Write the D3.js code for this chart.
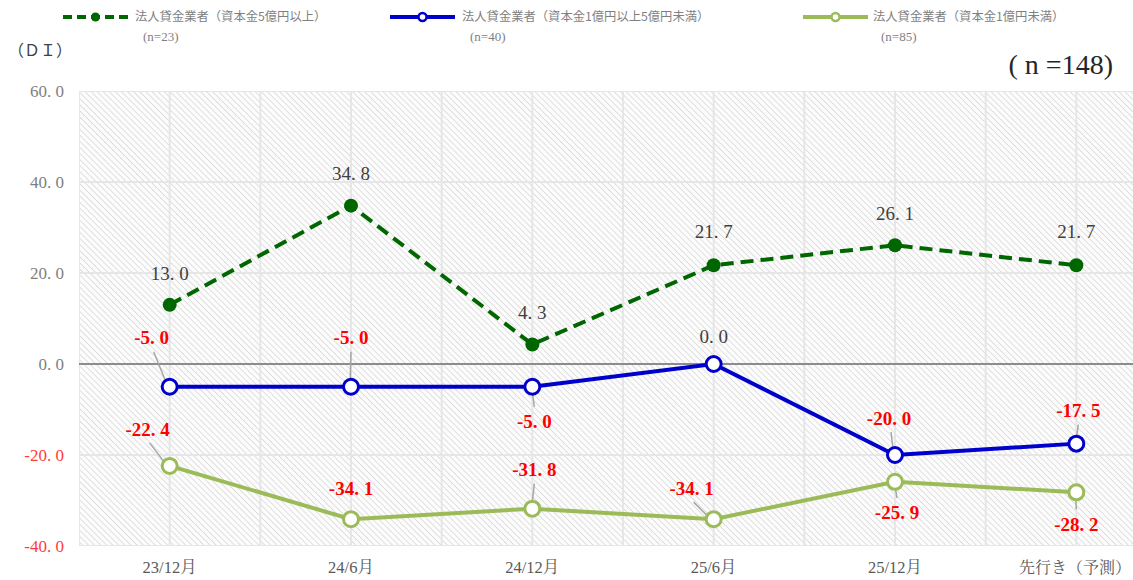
<!DOCTYPE html>
<html><head><meta charset="utf-8">
<script src="https://cdn.jsdelivr.net/npm/d3@7"></script>
<style>
body{margin:0;background:#fff;}
svg{display:block;}
</style></head>
<body>
<svg id="chart" width="1133" height="580"></svg>
<script>
const categories = ["23/12月","24/6月","24/12月","25/6月","25/12月","先行き（予測）"];
const seriesNames = ["法人貸金業者（資本金5億円以上）","法人貸金業者（資本金1億円以上5億円未満）","法人貸金業者（資本金1億円未満）"];
const seriesN = ["(n=23)","(n=40)","(n=85)"];
const large = [13.0, 34.8, 4.3, 21.7, 26.1, 21.7];
const mid = [-5.0, -5.0, -5.0, 0.0, -20.0, -17.5];
const small = [-22.4, -34.1, -31.8, -34.1, -25.9, -28.2];
const yTicks = [60, 40, 20, 0, -20, -40];

const svg = d3.select("#chart");
const pLeft = 79, pRight = 1167, pTop = 91, pBottom = 546;
const x = d3.scaleBand().domain(categories).range([pLeft, pRight]);
const xc = d => x(d) + x.bandwidth()/2;
const y = d3.scaleLinear().domain([-40, 60]).range([pBottom, pTop]);
const serif = "'Liberation Serif','Noto Serif CJK JP','Noto Sans CJK JP',serif";
const jp = "'Noto Sans CJK JP',sans-serif";
const fmt = v => { const s = d3.format(".1f")(v).replace("−","-"); return s.replace(".", ". "); };

// hatch pattern
const defs = svg.append("defs");
const pat = defs.append("pattern").attr("id","hatch").attr("patternUnits","userSpaceOnUse")
  .attr("width",4.3).attr("height",4.3).attr("patternTransform","rotate(45)");
pat.append("rect").attr("width",4.3).attr("height",4.3).attr("fill","#fcfcfc");
pat.append("line").attr("x1",0).attr("y1",0).attr("x2",4.3).attr("y2",0)
  .attr("stroke","#d9d9d9").attr("stroke-width",1.6);
defs.append("clipPath").attr("id","clip").append("rect")
  .attr("x",pLeft).attr("y",pTop).attr("width",pRight-pLeft).attr("height",pBottom-pTop);

svg.append("rect").attr("x",pLeft).attr("y",pTop).attr("width",pRight-pLeft).attr("height",pBottom-pTop)
  .attr("fill","url(#hatch)");

// gridlines
const grid = svg.append("g").attr("clip-path","url(#clip)");
grid.selectAll(".hg").data(yTicks.filter(t=>t!==0)).join("line")
  .attr("x1",pLeft).attr("x2",pRight).attr("y1",d=>y(d)).attr("y2",d=>y(d))
  .attr("stroke","#e6e6e6").attr("stroke-width",2);
const vlines = [];
categories.forEach(c=>{vlines.push(x(c)); vlines.push(xc(c));});
grid.selectAll(".vg").data(vlines).join("line")
  .attr("x1",d=>d).attr("x2",d=>d).attr("y1",pTop).attr("y2",pBottom)
  .attr("stroke","#e6e6e6").attr("stroke-width",2);

// zero line
svg.append("line").attr("x1",pLeft).attr("x2",pRight).attr("y1",y(0)).attr("y2",y(0))
  .attr("stroke","#8c8c8c").attr("stroke-width",2);

// y axis
const yAxis = svg.append("g").attr("transform",`translate(${pLeft-15},0)`)
  .call(d3.axisLeft(y).tickValues(yTicks).tickSize(0).tickFormat(fmt));
yAxis.select(".domain").remove();
yAxis.selectAll("text").attr("font-family",serif).attr("font-size",17)
  .attr("fill",d=>d<0?"#ff3b3b":"#7f7f7f").attr("dy","0.35em").attr("x",0);

// x axis
const xAxis = svg.append("g").attr("transform",`translate(0,${pBottom})`)
  .call(d3.axisBottom(x).tickSize(0));
xAxis.select(".domain").remove();
xAxis.selectAll("text").attr("font-family",serif).attr("font-size",16.5).attr("fill","#595959")
  .attr("y",27).attr("dy",0);
xAxis.selectAll("text").filter(d=>d===categories[categories.length-1])
  .attr("font-size",16).attr("text-anchor","end").attr("x",1131-xc(categories[categories.length-1]));

// lines
const line = d3.line().x((d,i)=>xc(categories[i])).y(d=>y(d));
svg.append("path").datum(small).attr("d",line).attr("fill","none").attr("stroke","#9bbb59").attr("stroke-width",4);
svg.append("path").datum(mid).attr("d",line).attr("fill","none").attr("stroke","#0000cc").attr("stroke-width",4);
svg.append("path").datum(large).attr("d",line).attr("fill","none").attr("stroke","#006600").attr("stroke-width",4)
  .attr("stroke-dasharray","13,7");

// label offsets [dx, dy] relative to point, and leader flag
const largeOff = [[0,-32],[0,-32],[0,-32],[0,-34],[0,-32],[0,-34]];
const midOff = [[-18,-49],[0,-49],[2,35],[0,-28],[-6,-37],[2,-33]];
const midLead = [true,true,true,false,true,true];
const smallOff = [[-22,-37],[0,-31],[2,-39],[-22,-31],[2,31],[0,32]];
const smallLead = [true,false,true,true,true,true];

const labels = svg.append("g");
function drawLabels(data, off, lead, colorFn, weight){
  data.forEach((v,i)=>{
    const px = xc(categories[i]), py = y(v);
    const lx = px+off[i][0], ly = py+off[i][1];
    if(lead && lead[i]){
      const dir = off[i][1] < 0 ? -1 : 1;
      labels.append("line").attr("x1",lx+ (off[i][0]<0?2:0)).attr("y1",ly + (dir<0?14:-15))
        .attr("x2",px-1).attr("y2",py-2*dir)
        .attr("stroke","#a6a6a6").attr("stroke-width",1.5);
    }
    labels.append("text").attr("x",lx).attr("y",ly).attr("text-anchor","middle").attr("dy","0.35em")
      .attr("font-family",serif).attr("font-size",19).attr("font-weight",typeof weight==="function"?weight(v):weight)
      .attr("fill",colorFn(v)).text(fmt(v));
  });
}

// markers
svg.selectAll(".ms").data(small).join("circle").attr("cx",(d,i)=>xc(categories[i])).attr("cy",d=>y(d))
  .attr("r",7.5).attr("fill","#fff").attr("stroke","#9bbb59").attr("stroke-width",3);
svg.selectAll(".mm").data(mid).join("circle").attr("cx",(d,i)=>xc(categories[i])).attr("cy",d=>y(d))
  .attr("r",7.5).attr("fill","#fff").attr("stroke","#0000cc").attr("stroke-width",3);
svg.selectAll(".ml").data(large).join("circle").attr("cx",(d,i)=>xc(categories[i])).attr("cy",d=>y(d))
  .attr("r",7).attr("fill","#006600");

drawLabels(large, largeOff, null, ()=>"#404040", "normal");
drawLabels(mid, midOff, midLead, v=>v<0?"#ff0000":"#404040", v=>v<0?"bold":"normal");
drawLabels(small, smallOff, smallLead, ()=>"#ff0000", "bold");

// legend
const legend = [
  {x1:63,x2:128,color:"#006600",dash:"9,5",filled:true,tx:135},
  {x1:390,x2:455,color:"#0000cc",dash:null,filled:false,tx:462},
  {x1:803,x2:868,color:"#9bbb59",dash:null,filled:false,tx:873}
];
legend.forEach((l,i)=>{
  const g = svg.append("g");
  g.append("line").attr("x1",l.x1).attr("x2",l.x2).attr("y1",17).attr("y2",17)
    .attr("stroke",l.color).attr("stroke-width",4).attr("stroke-dasharray",l.dash);
  const mx = (l.x1+l.x2)/2;
  g.append("circle").attr("cx",mx).attr("cy",17).attr("r",l.filled?4.5:4)
    .attr("fill",l.filled?l.color:"#fff").attr("stroke",l.color).attr("stroke-width",l.filled?0:2.5);
  g.append("text").attr("x",l.tx).attr("y",17).attr("dy","0.35em").attr("font-family",jp)
    .attr("font-size",12.3).attr("fill","#7f7f7f").text(seriesNames[i]);
  g.append("text").attr("x",l.tx+8).attr("y",36).attr("dy","0.35em").attr("font-family",serif)
    .attr("font-size",13).attr("fill","#7f7f7f").text(seriesN[i]);
});

svg.append("text").attr("x",8).attr("y",50).attr("dy","0.35em").attr("font-family",jp)
  .attr("font-size",16).attr("fill","#404040").text("（ＤＩ）");
svg.append("text").attr("x",1113).attr("y",64).attr("dy","0.35em").attr("text-anchor","end")
  .attr("font-family",serif).attr("font-size",28).attr("fill","#262626").text("( n =148)");
</script>
</body></html>
